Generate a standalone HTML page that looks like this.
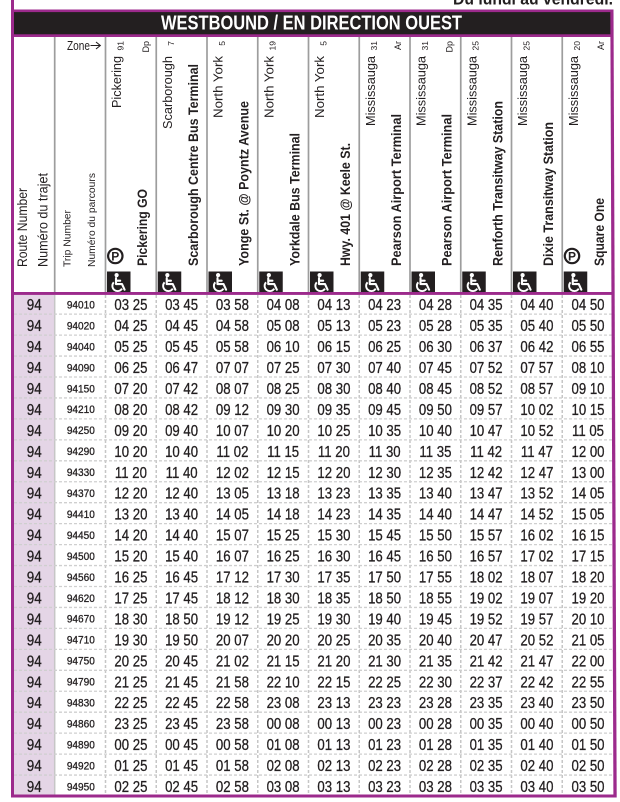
<!DOCTYPE html>
<html><head><meta charset="utf-8"><style>
html,body{margin:0;padding:0;background:#fff;}
svg{display:block;}
text{font-family:"Liberation Sans",Arial,sans-serif;fill:#231f20;}
.d text{stroke:#231f20;stroke-width:0.3;}
</style></head><body>
<svg width="620" height="802" viewBox="0 0 620 802" xmlns="http://www.w3.org/2000/svg">
<defs>
<g id="wc">
<rect x="0" y="0" width="23.5" height="21" fill="#231f20"/>
<circle cx="9.6" cy="3.6" r="2.1" fill="#fff"/>
<path d="M9,6.6 L9,12.6 L15,12.6 L17.6,18.2 M9,9.2 L13.2,9.2" stroke="#fff" stroke-width="2.1" fill="none" stroke-linecap="round" stroke-linejoin="round"/>
<path d="M6.8,10.8 A5.2,5.2 0 1 0 15,17.1" stroke="#fff" stroke-width="1.9" fill="none"/>
</g>
<g id="pk">
<circle cx="0" cy="0" r="7.2" fill="#fff" stroke="#231f20" stroke-width="2.2"/>
<text x="0" y="4.3" font-size="12" font-weight="bold" text-anchor="middle">P</text>
</g>
</defs>

<text x="453" y="4.3" font-size="17" font-weight="bold" textLength="160" lengthAdjust="spacingAndGlyphs">Du lundi au vendredi.</text>

<rect x="14" y="294.5" width="40.7" height="300" fill="#e4d5e6"/>
<rect x="14" y="594" width="40.7" height="201" fill="#e4d5e6"/>

<rect x="14" y="12" width="597" height="22.5" fill="#231f20"/>
<text x="311.5" y="29.3" font-size="20" font-weight="bold" text-anchor="middle" textLength="301" lengthAdjust="spacingAndGlyphs" style="fill:#fff">WESTBOUND / EN DIRECTION OUEST</text>

<g stroke="#9d9d9d" stroke-width="1.7">
<line x1="54.7" y1="37" x2="54.7" y2="292"/>
<line x1="105.5" y1="37" x2="105.5" y2="292"/>
<line x1="156.25" y1="37" x2="156.25" y2="292"/>
<line x1="207" y1="37" x2="207" y2="292"/>
<line x1="257.75" y1="37" x2="257.75" y2="292"/>
<line x1="308.5" y1="37" x2="308.5" y2="292"/>
<line x1="359.25" y1="37" x2="359.25" y2="292"/>
<line x1="410" y1="37" x2="410" y2="292"/>
<line x1="460.75" y1="37" x2="460.75" y2="292"/>
<line x1="511.5" y1="37" x2="511.5" y2="292"/>
<line x1="562.25" y1="37" x2="562.25" y2="292"/>
</g>

<line x1="54.7" y1="295" x2="54.7" y2="794.5" stroke="#c6c6c6" stroke-width="1.5"/>
<g stroke="#c6c6c6" stroke-width="1.5" stroke-dasharray="3 2">
<line x1="105.5" y1="295" x2="105.5" y2="794.5"/>
<line x1="156.25" y1="295" x2="156.25" y2="794.5"/>
<line x1="207" y1="295" x2="207" y2="794.5"/>
<line x1="257.75" y1="295" x2="257.75" y2="794.5"/>
<line x1="308.5" y1="295" x2="308.5" y2="794.5"/>
<line x1="359.25" y1="295" x2="359.25" y2="794.5"/>
<line x1="410" y1="295" x2="410" y2="794.5"/>
<line x1="460.75" y1="295" x2="460.75" y2="794.5"/>
<line x1="511.5" y1="295" x2="511.5" y2="794.5"/>
<line x1="562.25" y1="295" x2="562.25" y2="794.5"/>
</g>
<g stroke="#cfcfcf" stroke-width="1.3" stroke-dasharray="3 2">
<line x1="14" y1="314.15" x2="613" y2="314.15"/>
<line x1="14" y1="335.1" x2="613" y2="335.1"/>
<line x1="14" y1="356.05" x2="613" y2="356.05"/>
<line x1="14" y1="377" x2="613" y2="377"/>
<line x1="14" y1="397.95" x2="613" y2="397.95"/>
<line x1="14" y1="418.9" x2="613" y2="418.9"/>
<line x1="14" y1="439.85" x2="613" y2="439.85"/>
<line x1="14" y1="460.8" x2="613" y2="460.8"/>
<line x1="14" y1="481.75" x2="613" y2="481.75"/>
<line x1="14" y1="502.7" x2="613" y2="502.7"/>
<line x1="14" y1="523.65" x2="613" y2="523.65"/>
<line x1="14" y1="544.6" x2="613" y2="544.6"/>
<line x1="14" y1="565.55" x2="613" y2="565.55"/>
<line x1="14" y1="586.5" x2="613" y2="586.5"/>
<line x1="14" y1="607.45" x2="613" y2="607.45"/>
<line x1="14" y1="628.4" x2="613" y2="628.4"/>
<line x1="14" y1="649.35" x2="613" y2="649.35"/>
<line x1="14" y1="670.3" x2="613" y2="670.3"/>
<line x1="14" y1="691.25" x2="613" y2="691.25"/>
<line x1="14" y1="712.2" x2="613" y2="712.2"/>
<line x1="14" y1="733.15" x2="613" y2="733.15"/>
<line x1="14" y1="754.1" x2="613" y2="754.1"/>
<line x1="14" y1="775.05" x2="613" y2="775.05"/>
</g>

<text x="67" y="50" font-size="13" textLength="23" lengthAdjust="spacingAndGlyphs">Zone</text>
<path d="M90.5,45.5 L100,45.5 M96,42 L100.3,45.5 L96,49" stroke="#231f20" stroke-width="1.1" fill="none"/>
<text transform="translate(27 267) rotate(-90)" font-size="14" textLength="79" lengthAdjust="spacingAndGlyphs">Route Number</text>
<text transform="translate(47.5 267) rotate(-90)" font-size="14" textLength="94" lengthAdjust="spacingAndGlyphs">Numéro du trajet</text>
<text transform="translate(70.5 267) rotate(-90)" font-size="10" textLength="57" lengthAdjust="spacingAndGlyphs">Trip Number</text>
<text transform="translate(94.8 267) rotate(-90)" font-size="10.5" textLength="94" lengthAdjust="spacingAndGlyphs">Numéro du parcours</text>

<g font-size="13" text-anchor="end">
<text transform="translate(121 56) rotate(-90)" textLength="52" lengthAdjust="spacingAndGlyphs">Pickering</text>
<text transform="translate(171.75 56) rotate(-90)" textLength="73" lengthAdjust="spacingAndGlyphs">Scarborough</text>
<text transform="translate(222.5 56) rotate(-90)" textLength="62" lengthAdjust="spacingAndGlyphs">North York</text>
<text transform="translate(273.25 56) rotate(-90)" textLength="62" lengthAdjust="spacingAndGlyphs">North York</text>
<text transform="translate(324 56) rotate(-90)" textLength="62" lengthAdjust="spacingAndGlyphs">North York</text>
<text transform="translate(374.75 56) rotate(-90)" textLength="70" lengthAdjust="spacingAndGlyphs">Mississauga</text>
<text transform="translate(425.5 56) rotate(-90)" textLength="70" lengthAdjust="spacingAndGlyphs">Mississauga</text>
<text transform="translate(476.25 56) rotate(-90)" textLength="70" lengthAdjust="spacingAndGlyphs">Mississauga</text>
<text transform="translate(527 56) rotate(-90)" textLength="70" lengthAdjust="spacingAndGlyphs">Mississauga</text>
<text transform="translate(577.75 56) rotate(-90)" textLength="70" lengthAdjust="spacingAndGlyphs">Mississauga</text>
</g>

<g font-size="8.5" text-anchor="end">
<text transform="translate(123.3 41) rotate(-90)">91</text>
<text transform="translate(174.05 41) rotate(-90)">7</text>
<text transform="translate(224.8 41) rotate(-90)">5</text>
<text transform="translate(275.55 41) rotate(-90)">19</text>
<text transform="translate(326.3 41) rotate(-90)">5</text>
<text transform="translate(377.05 41) rotate(-90)">31</text>
<text transform="translate(427.8 41) rotate(-90)">31</text>
<text transform="translate(478.55 41) rotate(-90)">25</text>
<text transform="translate(529.3 41) rotate(-90)">25</text>
<text transform="translate(580.05 41) rotate(-90)">20</text>
</g>
<g font-size="9" text-anchor="end">
<text transform="translate(149 41) rotate(-90)">Dp</text>
<text transform="translate(401 41) rotate(-90)">Ar</text>
<text transform="translate(452.5 41) rotate(-90)">Dp</text>
<text transform="translate(604 41) rotate(-90)">Ar</text>
</g>

<g font-size="14" font-weight="bold">
<text transform="translate(147 266) rotate(-90)" textLength="77" lengthAdjust="spacingAndGlyphs">Pickering GO</text>
<text transform="translate(197.75 266) rotate(-90)" textLength="202" lengthAdjust="spacingAndGlyphs">Scarborough Centre Bus Terminal</text>
<text transform="translate(248.5 266) rotate(-90)" textLength="165" lengthAdjust="spacingAndGlyphs">Yonge St. @ Poyntz Avenue</text>
<text transform="translate(299.25 266) rotate(-90)" textLength="133" lengthAdjust="spacingAndGlyphs">Yorkdale Bus Terminal</text>
<text transform="translate(350 266) rotate(-90)" textLength="123" lengthAdjust="spacingAndGlyphs">Hwy. 401 @ Keele St.</text>
<text transform="translate(400.75 266) rotate(-90)" textLength="152" lengthAdjust="spacingAndGlyphs">Pearson Airport Terminal</text>
<text transform="translate(451.5 266) rotate(-90)" textLength="152" lengthAdjust="spacingAndGlyphs">Pearson Airport Terminal</text>
<text transform="translate(502.25 266) rotate(-90)" textLength="165" lengthAdjust="spacingAndGlyphs">Renforth Transitway Station</text>
<text transform="translate(553 266) rotate(-90)" textLength="144" lengthAdjust="spacingAndGlyphs">Dixie Transitway Station</text>
<text transform="translate(603.75 266) rotate(-90)" textLength="68" lengthAdjust="spacingAndGlyphs">Square One</text>
</g>

<use href="#pk" x="115.3" y="256"/>
<use href="#pk" x="572" y="256"/>
<use href="#wc" x="107" y="271.5"/>
<use href="#wc" x="157.75" y="271.5"/>
<use href="#wc" x="208.5" y="271.5"/>
<use href="#wc" x="259.25" y="271.5"/>
<use href="#wc" x="310" y="271.5"/>
<use href="#wc" x="360.75" y="271.5"/>
<use href="#wc" x="411.5" y="271.5"/>
<use href="#wc" x="462.25" y="271.5"/>
<use href="#wc" x="513" y="271.5"/>
<use href="#wc" x="563.75" y="271.5"/>

<g class="d">
<g transform="translate(34.3 0) scale(0.843 1)" font-size="16" text-anchor="middle">
<text y="310.2">94</text><text y="331.15">94</text><text y="352.1">94</text><text y="373.05">94</text><text y="394">94</text><text y="414.95">94</text><text y="435.9">94</text><text y="456.85">94</text><text y="477.8">94</text><text y="498.75">94</text><text y="519.7">94</text><text y="540.65">94</text><text y="561.6">94</text><text y="582.55">94</text><text y="603.5">94</text><text y="624.45">94</text><text y="645.4">94</text><text y="666.35">94</text><text y="687.3">94</text><text y="708.25">94</text><text y="729.2">94</text><text y="750.15">94</text><text y="771.1">94</text><text y="792.05">94</text>
</g>
<g transform="translate(80.8 0) scale(0.915 1)" font-size="11" text-anchor="middle">
<text y="308.5">94010</text><text y="329.45">94020</text><text y="350.4">94040</text><text y="371.35">94090</text><text y="392.3">94150</text><text y="413.25">94210</text><text y="434.2">94250</text><text y="455.15">94290</text><text y="476.1">94330</text><text y="497.05">94370</text><text y="518">94410</text><text y="538.95">94450</text><text y="559.9">94500</text><text y="580.85">94560</text><text y="601.8">94620</text><text y="622.75">94670</text><text y="643.7">94710</text><text y="664.65">94750</text><text y="685.6">94790</text><text y="706.55">94830</text><text y="727.5">94860</text><text y="748.45">94890</text><text y="769.4">94920</text><text y="790.35">94950</text>
</g>

<g font-size="16" text-anchor="middle">
<g transform="translate(130.9 0) scale(0.825 1)">
<text y="310.2">03 25</text><text y="331.15">04 25</text><text y="352.1">05 25</text><text y="373.05">06 25</text><text y="394">07 20</text><text y="414.95">08 20</text><text y="435.9">09 20</text><text y="456.85">10 20</text><text y="477.8">11 20</text><text y="498.75">12 20</text><text y="519.7">13 20</text><text y="540.65">14 20</text><text y="561.6">15 20</text><text y="582.55">16 25</text><text y="603.5">17 25</text><text y="624.45">18 30</text><text y="645.4">19 30</text><text y="666.35">20 25</text><text y="687.3">21 25</text><text y="708.25">22 25</text><text y="729.2">23 25</text><text y="750.15">00 25</text><text y="771.1">01 25</text><text y="792.05">02 25</text>
</g>
<g transform="translate(181.6 0) scale(0.825 1)">
<text y="310.2">03 45</text><text y="331.15">04 45</text><text y="352.1">05 45</text><text y="373.05">06 47</text><text y="394">07 42</text><text y="414.95">08 42</text><text y="435.9">09 40</text><text y="456.85">10 40</text><text y="477.8">11 40</text><text y="498.75">12 40</text><text y="519.7">13 40</text><text y="540.65">14 40</text><text y="561.6">15 40</text><text y="582.55">16 45</text><text y="603.5">17 45</text><text y="624.45">18 50</text><text y="645.4">19 50</text><text y="666.35">20 45</text><text y="687.3">21 45</text><text y="708.25">22 45</text><text y="729.2">23 45</text><text y="750.15">00 45</text><text y="771.1">01 45</text><text y="792.05">02 45</text>
</g>
<g transform="translate(232.4 0) scale(0.825 1)">
<text y="310.2">03 58</text><text y="331.15">04 58</text><text y="352.1">05 58</text><text y="373.05">07 07</text><text y="394">08 07</text><text y="414.95">09 12</text><text y="435.9">10 07</text><text y="456.85">11 02</text><text y="477.8">12 02</text><text y="498.75">13 05</text><text y="519.7">14 05</text><text y="540.65">15 07</text><text y="561.6">16 07</text><text y="582.55">17 12</text><text y="603.5">18 12</text><text y="624.45">19 12</text><text y="645.4">20 07</text><text y="666.35">21 02</text><text y="687.3">21 58</text><text y="708.25">22 58</text><text y="729.2">23 58</text><text y="750.15">00 58</text><text y="771.1">01 58</text><text y="792.05">02 58</text>
</g>
<g transform="translate(283.1 0) scale(0.825 1)">
<text y="310.2">04 08</text><text y="331.15">05 08</text><text y="352.1">06 10</text><text y="373.05">07 25</text><text y="394">08 25</text><text y="414.95">09 30</text><text y="435.9">10 20</text><text y="456.85">11 15</text><text y="477.8">12 15</text><text y="498.75">13 18</text><text y="519.7">14 18</text><text y="540.65">15 25</text><text y="561.6">16 25</text><text y="582.55">17 30</text><text y="603.5">18 30</text><text y="624.45">19 25</text><text y="645.4">20 20</text><text y="666.35">21 15</text><text y="687.3">22 10</text><text y="708.25">23 08</text><text y="729.2">00 08</text><text y="750.15">01 08</text><text y="771.1">02 08</text><text y="792.05">03 08</text>
</g>
<g transform="translate(333.9 0) scale(0.825 1)">
<text y="310.2">04 13</text><text y="331.15">05 13</text><text y="352.1">06 15</text><text y="373.05">07 30</text><text y="394">08 30</text><text y="414.95">09 35</text><text y="435.9">10 25</text><text y="456.85">11 20</text><text y="477.8">12 20</text><text y="498.75">13 23</text><text y="519.7">14 23</text><text y="540.65">15 30</text><text y="561.6">16 30</text><text y="582.55">17 35</text><text y="603.5">18 35</text><text y="624.45">19 30</text><text y="645.4">20 25</text><text y="666.35">21 20</text><text y="687.3">22 15</text><text y="708.25">23 13</text><text y="729.2">00 13</text><text y="750.15">01 13</text><text y="771.1">02 13</text><text y="792.05">03 13</text>
</g>
<g transform="translate(384.6 0) scale(0.825 1)">
<text y="310.2">04 23</text><text y="331.15">05 23</text><text y="352.1">06 25</text><text y="373.05">07 40</text><text y="394">08 40</text><text y="414.95">09 45</text><text y="435.9">10 35</text><text y="456.85">11 30</text><text y="477.8">12 30</text><text y="498.75">13 35</text><text y="519.7">14 35</text><text y="540.65">15 45</text><text y="561.6">16 45</text><text y="582.55">17 50</text><text y="603.5">18 50</text><text y="624.45">19 40</text><text y="645.4">20 35</text><text y="666.35">21 30</text><text y="687.3">22 25</text><text y="708.25">23 23</text><text y="729.2">00 23</text><text y="750.15">01 23</text><text y="771.1">02 23</text><text y="792.05">03 23</text>
</g>
<g transform="translate(435.4 0) scale(0.825 1)">
<text y="310.2">04 28</text><text y="331.15">05 28</text><text y="352.1">06 30</text><text y="373.05">07 45</text><text y="394">08 45</text><text y="414.95">09 50</text><text y="435.9">10 40</text><text y="456.85">11 35</text><text y="477.8">12 35</text><text y="498.75">13 40</text><text y="519.7">14 40</text><text y="540.65">15 50</text><text y="561.6">16 50</text><text y="582.55">17 55</text><text y="603.5">18 55</text><text y="624.45">19 45</text><text y="645.4">20 40</text><text y="666.35">21 35</text><text y="687.3">22 30</text><text y="708.25">23 28</text><text y="729.2">00 28</text><text y="750.15">01 28</text><text y="771.1">02 28</text><text y="792.05">03 28</text>
</g>
<g transform="translate(486.1 0) scale(0.825 1)">
<text y="310.2">04 35</text><text y="331.15">05 35</text><text y="352.1">06 37</text><text y="373.05">07 52</text><text y="394">08 52</text><text y="414.95">09 57</text><text y="435.9">10 47</text><text y="456.85">11 42</text><text y="477.8">12 42</text><text y="498.75">13 47</text><text y="519.7">14 47</text><text y="540.65">15 57</text><text y="561.6">16 57</text><text y="582.55">18 02</text><text y="603.5">19 02</text><text y="624.45">19 52</text><text y="645.4">20 47</text><text y="666.35">21 42</text><text y="687.3">22 37</text><text y="708.25">23 35</text><text y="729.2">00 35</text><text y="750.15">01 35</text><text y="771.1">02 35</text><text y="792.05">03 35</text>
</g>
<g transform="translate(536.9 0) scale(0.825 1)">
<text y="310.2">04 40</text><text y="331.15">05 40</text><text y="352.1">06 42</text><text y="373.05">07 57</text><text y="394">08 57</text><text y="414.95">10 02</text><text y="435.9">10 52</text><text y="456.85">11 47</text><text y="477.8">12 47</text><text y="498.75">13 52</text><text y="519.7">14 52</text><text y="540.65">16 02</text><text y="561.6">17 02</text><text y="582.55">18 07</text><text y="603.5">19 07</text><text y="624.45">19 57</text><text y="645.4">20 52</text><text y="666.35">21 47</text><text y="687.3">22 42</text><text y="708.25">23 40</text><text y="729.2">00 40</text><text y="750.15">01 40</text><text y="771.1">02 40</text><text y="792.05">03 40</text>
</g>
<g transform="translate(588 0) scale(0.825 1)">
<text y="310.2">04 50</text><text y="331.15">05 50</text><text y="352.1">06 55</text><text y="373.05">08 10</text><text y="394">09 10</text><text y="414.95">10 15</text><text y="435.9">11 05</text><text y="456.85">12 00</text><text y="477.8">13 00</text><text y="498.75">14 05</text><text y="519.7">15 05</text><text y="540.65">16 15</text><text y="561.6">17 15</text><text y="582.55">18 20</text><text y="603.5">19 20</text><text y="624.45">20 10</text><text y="645.4">21 05</text><text y="666.35">22 00</text><text y="687.3">22 55</text><text y="708.25">23 50</text><text y="729.2">00 50</text><text y="750.15">01 50</text><text y="771.1">02 50</text><text y="792.05">03 50</text>
</g>
</g>
</g>

<g fill="#9c2a8c">
<rect x="11" y="0" width="3" height="797.5"/>
<rect x="11" y="9.5" width="602.5" height="2.6"/>
<rect x="11" y="34.3" width="602" height="2.7"/>
<rect x="11" y="292" width="603" height="2.9"/>
<rect x="11" y="794.5" width="605.5" height="3"/>
<polygon points="610.3,9.5 613.5,9.5 616.7,797.5 613.4,797.5"/>
</g>
</svg>
</body></html>
